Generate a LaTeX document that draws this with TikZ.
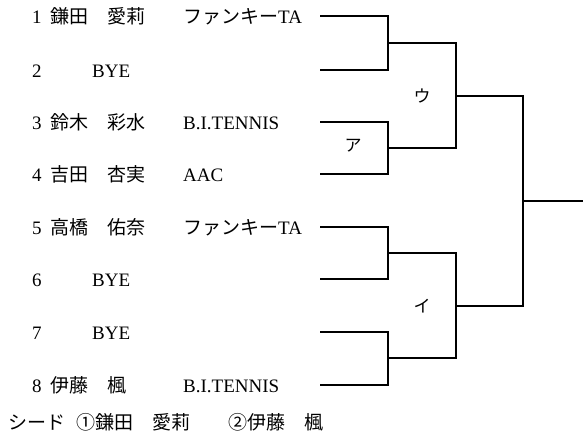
\documentclass[tikz,border=0pt]{standalone}
\usepackage{fontspec}
\setmainfont{Liberation Serif}
\newfontfamily\jp{Noto Sans CJK JP}
\usetikzlibrary{positioning}
\tikzset{txt/.style={anchor=base west, inner sep=0pt, font=\fontsize{19}{23}\selectfont}}
\tikzset{jtxt/.style={txt, font=\fontsize{19}{23}\selectfont\jp}}
\tikzset{roundlbl/.style={anchor=center, inner sep=0pt, font=\fontsize{17}{20}\selectfont\jp}}
\tikzset{bracket/.style={line width=1.6pt}}
\begin{document}
\begin{tikzpicture}[x=1pt, y=-1pt]
\useasboundingbox (0,0) rectangle (583,439);

% players
\node[txt] (num1) at (32, 23) {1};
\node[jtxt] (name1) at (50, 23) {鎌田　愛莉};
\node[txt] (club1) at (183, 23) {{\jp ファンキー}TA};

\node[txt] (num2) at (32, 77) {2};
\node[txt] (name2) at (92, 77) {BYE};

\node[txt] (num3) at (32, 129) {3};
\node[jtxt] (name3) at (50, 129) {鈴木　彩水};
\node[txt] (club3) at (183, 129) {B.I.TENNIS};

\node[txt] (num4) at (32, 181) {4};
\node[jtxt] (name4) at (50, 181) {吉田　杏実};
\node[txt] (club4) at (183, 181) {AAC};

\node[txt] (num5) at (32, 234) {5};
\node[jtxt] (name5) at (50, 234) {高橋　佑奈};
\node[txt] (club5) at (183, 234) {{\jp ファンキー}TA};

\node[txt] (num6) at (32, 286) {6};
\node[txt] (name6) at (92, 286) {BYE};

\node[txt] (num7) at (32, 339) {7};
\node[txt] (name7) at (92, 339) {BYE};

\node[txt] (num8) at (32, 392) {8};
\node[jtxt] (name8) at (50, 392) {伊藤　楓};
\node[txt] (club8) at (183, 392) {B.I.TENNIS};

\node[jtxt] (seed) at (8, 429) {シード\hspace{11pt}①鎌田　愛莉　　②伊藤　楓};

% bracket
\coordinate (e1) at (320, 16);
\coordinate (e2) at (320, 70);
\coordinate (e3) at (320, 122);
\coordinate (e4) at (320, 174);
\coordinate (e5) at (320, 227);
\coordinate (e6) at (320, 279);
\coordinate (e7) at (320, 332);
\coordinate (e8) at (320, 385);

\coordinate (m1) at (388, 43);
\coordinate (m2) at (388, 148);
\coordinate (m3) at (388, 253);
\coordinate (m4) at (388, 358);
\coordinate (r1) at (456, 96);
\coordinate (r2) at (456, 306);
\coordinate (f) at (523, 201);
\coordinate (win) at (583, 201);

\draw[bracket] (e1) -| (m1) |- (e2);
\draw[bracket] (e3) -| (m2) |- (e4);
\draw[bracket] (e5) -| (m3) |- (e6);
\draw[bracket] (e7) -| (m4) |- (e8);
\draw[bracket] (m1) -| (r1) |- (m2);
\draw[bracket] (m3) -| (r2) |- (m4);
\draw[bracket] (r1) -| (f) |- (r2);
\draw[bracket] (f) -- (win);

\node[roundlbl] (a) at (353, 146) {ア};
\node[roundlbl] (u) at (422, 96) {ウ};
\node[roundlbl] (i) at (422, 306) {イ};

\end{tikzpicture}
\end{document}
